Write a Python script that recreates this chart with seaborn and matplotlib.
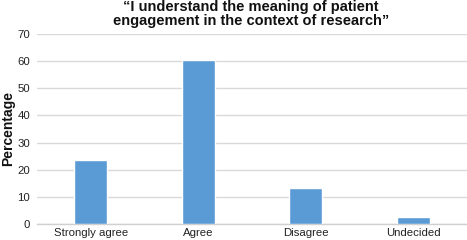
import matplotlib
matplotlib.use("Agg")
import matplotlib.pyplot as plt
import seaborn as sns
import pandas as pd

categories = ["Strongly agree", "Agree", "Disagree", "Undecided"]
percentages = [23.6, 60.5, 13.3, 2.6]
title_text = "\u201cI understand the meaning of patient\nengagement in the context of research\u201d"
y_label = "Percentage"
y_ticks = [0, 10, 20, 30, 40, 50, 60, 70]

sns.set_theme(style="white")
plt.rcParams["font.family"] = ["Liberation Sans", "DejaVu Sans"]

df = pd.DataFrame({"category": categories, "pct": percentages})

fig = plt.figure(figsize=(4.67, 2.40), dpi=100)
ax = fig.add_axes([37 / 467, 1 - 224 / 240, 430 / 467, (224 - 34) / 240])

sns.barplot(data=df, x="category", y="pct", color="#5B9BD5", width=0.31,
            saturation=1, ax=ax, zorder=3)

ax.set_ylim(0, 70)
ax.set_yticks(y_ticks)
ax.set_xlim(-0.5, 3.5)
ax.yaxis.grid(True, color="#D9D9D9", linewidth=1.0, zorder=0)
ax.set_axisbelow(True)
for s in ["top", "right", "left"]:
    ax.spines[s].set_visible(False)
ax.spines["bottom"].set_color("#D0D0D0")
ax.spines["bottom"].set_linewidth(1.0)

ax.tick_params(axis="both", length=0, labelsize=8.2, colors="#222222")
ax.tick_params(axis="y", pad=5)
ax.tick_params(axis="x", pad=3)
ax.set_xlabel("")
ax.set_ylabel(y_label, fontsize=10, fontweight="bold", color="#111111")
ax.yaxis.set_label_coords(-22 / 430, 0.5)

fig.text(251 / 467, 1 - 0.5 / 240, title_text, ha="center", va="top",
         fontsize=10.5, fontweight="bold", color="#111111", linespacing=1.0)

fig.savefig("out.png", dpi=100)
